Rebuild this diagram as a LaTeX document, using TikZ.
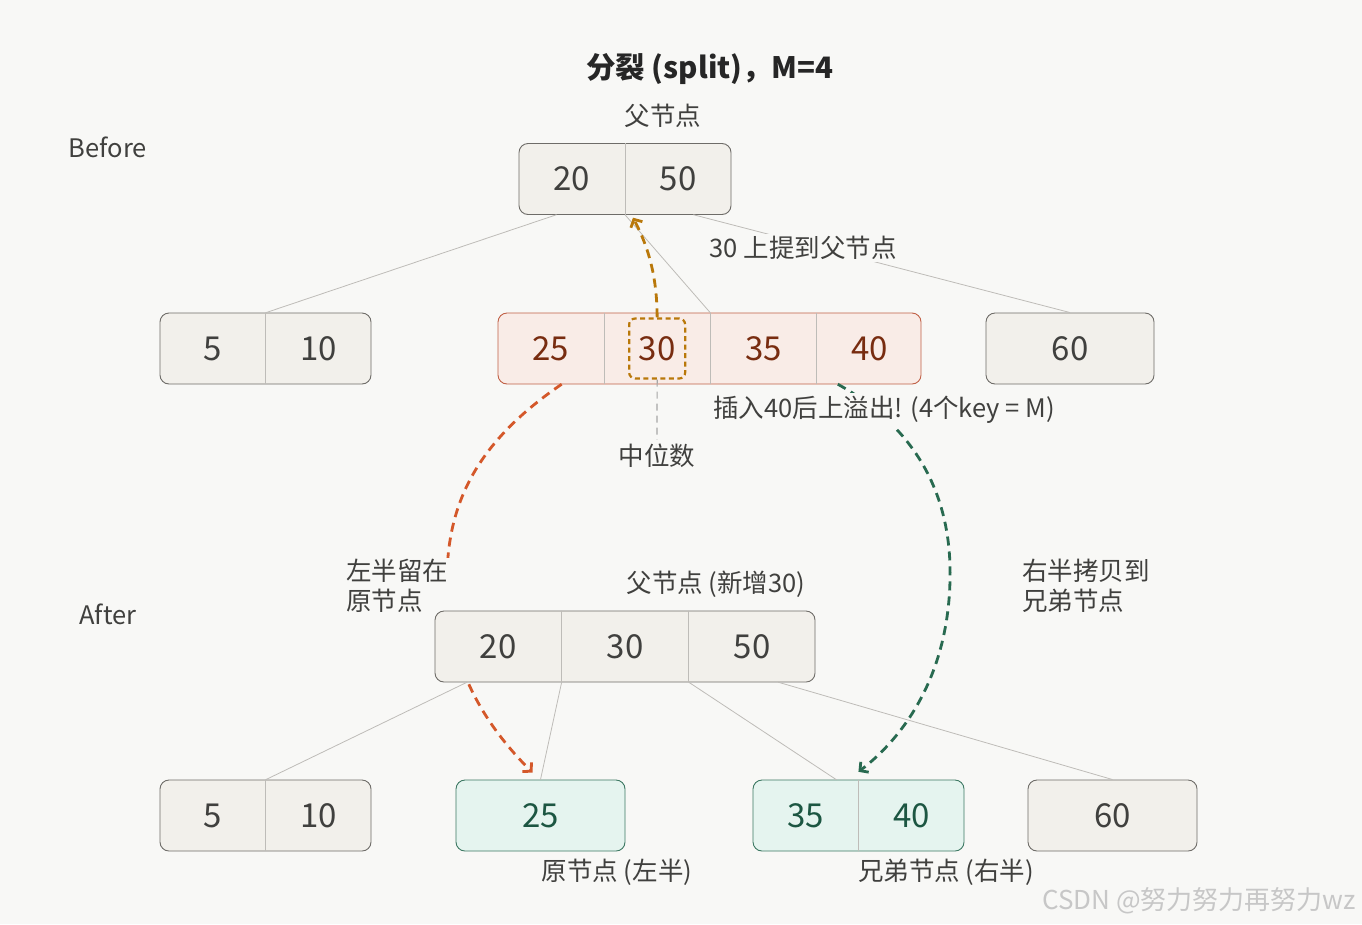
\documentclass[tikz,border=0pt]{standalone}
\usepackage{fontspec}
\setmainfont{Noto Sans CJK SC}
\usepackage{xcolor}
\usetikzlibrary{positioning,arrows.meta}
\definecolor{pagebg}{RGB}{248,248,246}
\definecolor{nodefill}{RGB}{242,240,235}
\definecolor{nodeline}{RGB}{110,108,104}
\definecolor{txtgray}{RGB}{64,64,62}
\definecolor{sepgray}{RGB}{190,188,184}
\definecolor{ovfill}{RGB}{249,236,231}
\definecolor{ovline}{RGB}{192,96,70}
\definecolor{ovtext}{RGB}{120,44,16}
\definecolor{grfill}{RGB}{229,244,239}
\definecolor{grline}{RGB}{60,120,98}
\definecolor{grtext}{RGB}{28,86,66}
\definecolor{goldarr}{RGB}{185,120,10}
\definecolor{orarr}{RGB}{212,88,42}
\definecolor{grarr}{RGB}{40,106,80}

\begin{document}
\begin{tikzpicture}[x=1pt, y=-1pt, >={Straight Barb[length=6pt,width=13pt]}]
  \tikzstyle{box}=[rectangle,rounded corners=9pt,draw=nodeline,fill=nodefill,line width=0.9pt,minimum height=71pt,inner sep=0pt]
  \tikzstyle{ovbox}=[box,draw=ovline,fill=ovfill]
  \tikzstyle{grbox}=[box,draw=grline,fill=grfill]
  \tikzstyle{cell}=[rectangle,minimum width=106pt,minimum height=71pt,inner sep=0pt,font=\fontsize{33}{38}\selectfont,text=txtgray]
  \tikzstyle{sep}=[draw=sepgray,line width=0.8pt]
  \tikzstyle{edge}=[draw=sepgray,line width=0.8pt]
  \tikzstyle{lbl}=[font=\fontsize{25.5}{30}\selectfont,text=txtgray,inner sep=0pt]
  \tikzstyle{flow}=[line width=2.8pt,dash pattern=on 9pt off 6pt,->]

  \fill[pagebg] (0,0) rectangle (1362,924);
  \useasboundingbox (0,0) rectangle (1362,924);

  % titles
  \node[font=\fontsize{29.5}{35}\selectfont\bfseries,text=black!85] (title) at (710,69) {分裂 (split)，M=4};
  \node[lbl] (before) at (108,147) {Before};
  \node[lbl] (after) at (108,614) {After};

  % before: parent
  \node[lbl] (parlbl) at (663,116) {父节点};
  \node[box,minimum width=212pt] (par) at (625,179) {};
  \node[cell,anchor=west] (p20) at (par.west) {20};
  \node[cell,right=0pt of p20] (p50) {50};
  \draw[sep] (p20.north east) -- (p20.south east);

  % before: children
  \node[box,minimum width=211pt] (left) at (265.5,348.5) {};
  \node[cell,anchor=west,minimum width=105.5pt] (c5) at (left.west) {5};
  \node[cell,right=0pt of c5,minimum width=105.5pt] (c10) {10};
  \draw[sep] (c5.north east) -- (c5.south east);

  \node[ovbox,minimum width=423pt] (ov) at (709.5,348.5) {};
  \node[cell,anchor=west,text=ovtext] (c25) at (ov.west) {25};
  \node[cell,right=0pt of c25,text=ovtext] (c30) {30};
  \node[cell,right=0pt of c30,text=ovtext] (c35) {35};
  \node[cell,right=0pt of c35,text=ovtext] (c40) {40};
  \foreach \c in {c25,c30,c35} \draw[sep] (\c.north east) -- (\c.south east);
  \node[rectangle,rounded corners=6pt,draw=goldarr,line width=2.2pt,dash pattern=on 5pt off 3.5pt,minimum width=56pt,minimum height=60pt] (med) at (c30) {};

  \node[box,minimum width=168pt,font=\fontsize{33}{38}\selectfont,text=txtgray] (r60) at (1070,348.5) {60};

  \draw[edge] (p20.-113) -- (c5.north east);
  \draw[edge] (p20.south east) -- (c30.north east);
  \draw[edge] (p50.-67) -- (r60.north);

  \node[lbl,fill=pagebg,inner sep=2pt] (uplbl) at (803,248) {30 上提到父节点};
  \node[lbl] (medlbl) at (657,456) {中位数};
  \draw[draw=black!35,line width=1.2pt,dash pattern=on 7pt off 5pt] (med.south) -- ([yshift=4pt]medlbl.north);

  % after: nodes for the split arrows to reach
  \node[grbox,minimum width=169pt,font=\fontsize{33}{38}\selectfont,text=grtext] (n25) at (540.5,815.5) {25};
  \node[grbox,minimum width=211pt] (sib) at (858.5,815.5) {};
  \node[cell,anchor=west,minimum width=105.5pt,text=grtext] (n35) at (sib.west) {35};
  \node[cell,right=0pt of n35,minimum width=105.5pt,text=grtext] (n40) {40};
  \draw[sep] (n35.north east) -- (n35.south east);

  % split arrows (behind the new parent and the labels)
  \coordinate (lmid) at (447,580);
  \coordinate (rmid) at (950,580);
  \draw[flow,draw=orarr] (c25.-73) .. controls (480,440) and (447,500) .. (lmid)
    .. controls (447,660) and (480,720) .. ([xshift=-8pt,yshift=7pt]n25.north);
  \draw[flow,draw=grarr] (c40.-132) .. controls (920,430) and (952,500) .. (rmid)
    .. controls (948,680) and (900,740) .. ([yshift=8pt]n40.north west);
  \draw[flow,draw=goldarr] (med.north) .. controls (657,280) and (650,250) .. ([xshift=8pt,yshift=-3pt]p50.south west);

  \node[lbl,fill=pagebg,inner sep=3pt] (ovlbl) at (884,410) {插入40后上溢出! (4个key = M)};
  \node[lbl] (newlbl) at (716,584) {父节点 (新增30)};
  \node[lbl,anchor=west,align=left,fill=pagebg,inner xsep=3pt,inner ysep=1pt] (leftlbl) at (343,586) {左半留在\\原节点};
  \node[lbl,anchor=west,align=left] (rightlbl) at (1022,586) {右半拷贝到\\兄弟节点};

  % after: parent
  \node[box,minimum width=380pt] (np) at (625,646.5) {};
  \node[cell,anchor=west,minimum width=126.7pt] (a20) at (np.west) {20};
  \node[cell,right=0pt of a20,minimum width=126.7pt] (a30) {30};
  \node[cell,right=0pt of a30,minimum width=126.7pt] (a50) {50};
  \draw[sep] (a20.north east) -- (a20.south east);
  \draw[sep] (a30.north east) -- (a30.south east);

  % after: other children
  \node[box,minimum width=211pt] (bleft) at (265.5,815.5) {};
  \node[cell,anchor=west,minimum width=105.5pt] (b5) at (bleft.west) {5};
  \node[cell,right=0pt of b5,minimum width=105.5pt] (b10) {10};
  \draw[sep] (b5.north east) -- (b5.south east);

  \node[box,minimum width=169pt,font=\fontsize{33}{38}\selectfont,text=txtgray] (m60) at (1112.5,815.5) {60};

  \draw[edge] (a20.-131) -- (b5.north east);
  \draw[edge] (a20.south east) -- (n25.north);
  \draw[edge] (a30.south east) -- (n35.49);
  \draw[edge] (a50.-54) -- (m60.north);

  \node[lbl] (origlbl) at (617,872) {原节点 (左半)};
  \node[lbl] (siblbl) at (946,872) {兄弟节点 (右半)};

  \node[font=\fontsize{26}{30}\selectfont,text=black!22,anchor=east] (mark) at (1359,901) {CSDN @努力努力再努力wz};
\end{tikzpicture}
\end{document}
